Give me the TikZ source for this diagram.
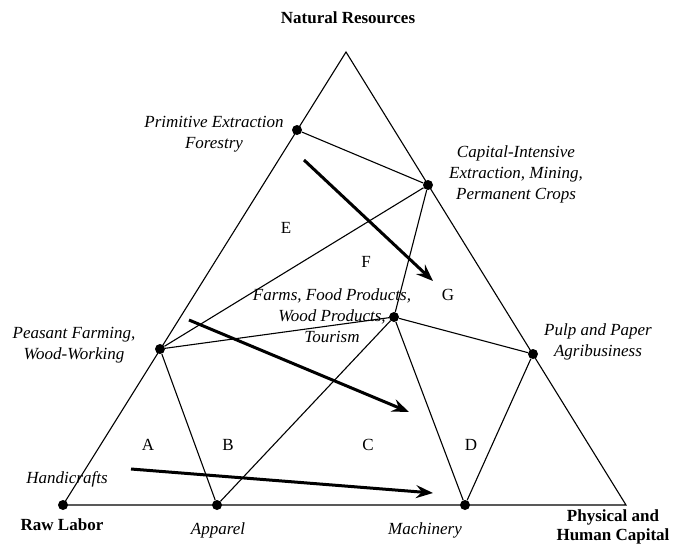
\documentclass[tikz,border=0pt]{standalone}
\usepackage{fontspec}
\setmainfont{Liberation Serif}
\usetikzlibrary{arrows.meta, positioning, calc}
\tikzset{
    dot/.style = {circle, fill=black, inner sep=0pt, minimum size=10pt},
    lbl/.style = {align=center, font=\fontsize{17}{21}\selectfont\itshape, inner sep=0pt},
    corner/.style = {align=center, font=\fontsize{17}{19}\selectfont\bfseries, inner sep=0pt},
    region/.style = {font=\fontsize{17}{19}\selectfont, inner sep=0pt},
    line/.style = {draw, line width=1.1pt},
    trend/.style = {draw, -{Stealth[length=17pt, width=13pt, inset=6pt]}, line width=3pt}
}
\begin{document}
\begin{tikzpicture}[x=1pt, y=-1pt]
        \useasboundingbox (0,0) rectangle (676,552);
        % Triangle corners
        \coordinate (apex) at (346,52);
        \coordinate (capcorner) at (626,505);
        % Nodes
        \node [dot] (labor) at (63,505) {};
        \node [dot] (primitive) at (297,130) {};
        \node [dot] (capital) at (428,185) {};
        \node [dot] (peasant) at (160,349) {};
        \node [dot] (pulp) at (533,354) {};
        \node [dot] (farms) at (394,317) {};
        \node [dot] (apparel) at (217,505) {};
        \node [dot] (machinery) at (465,505) {};
        
        % Labels
        \node [corner] (natres) at (348,18) {Natural Resources};
        \node [corner] (rawlabor) at (62,525) {Raw Labor};
        \node [corner] (physcap) at (613,527) {Physical and\\Human Capital};
        \node [lbl] (primlbl) at (214,134) {Primitive Extraction\\Forestry};
        \node [lbl] (caplbl) at (516,174) {Capital-Intensive\\Extraction, Mining,\\Permanent Crops};
        \node [lbl] (farmlbl) at (332,316) {Farms, Food Products,\\Wood Products,\\Tourism};
        \node [lbl] (peaslbl) at (74,345) {Peasant Farming,\\Wood-Working};
        \node [lbl] (pulplbl) at (598,342) {Pulp and Paper\\Agribusiness};
        \node [lbl] (handlbl) at (67,479) {Handicrafts};
        \node [lbl] (appalbl) at (218,530) {Apparel};
        \node [lbl] (machlbl) at (425,530) {Machinery};
        
        % Regions
        \node [region] (regE) at (286,228) {E};
        \node [region] (regF) at (366,262) {F};
        \node [region] (regG) at (448,295) {G};
        \node [region] (regA) at (148,445) {A};
        \node [region] (regB) at (228,445) {B};
        \node [region] (regC) at (368,445) {C};
        \node [region] (regD) at (471,445) {D};
        
        % Edges
        \path [line] (apex) -- (labor.center) -- (capcorner) -- cycle;
        \path [line] (primitive) -- (capital);
        \path [line] (capital) -- (peasant);
        \path [line] (capital) -- (farms);
        \path [line] (peasant) -- (farms);
        \path [line] (farms) -- (pulp);
        \path [line] (farms) -- (apparel);
        \path [line] (farms) -- (machinery);
        \path [line] (peasant) -- (apparel);
        \path [line] (pulp) -- (machinery);
        
        % Shifts
        \coordinate (s1) at (304,160);
        \coordinate (e1) at (433,281);
        \coordinate (s2) at (189,320);
        \coordinate (e2) at (409,412);
        \coordinate (s3) at (131,469);
        \coordinate (e3) at (433,493);
        \path [trend] (s1) -- (e1);
        \path [trend] (s2) -- (e2);
        \path [trend] (s3) -- (e3);
    \end{tikzpicture}
\end{document}
